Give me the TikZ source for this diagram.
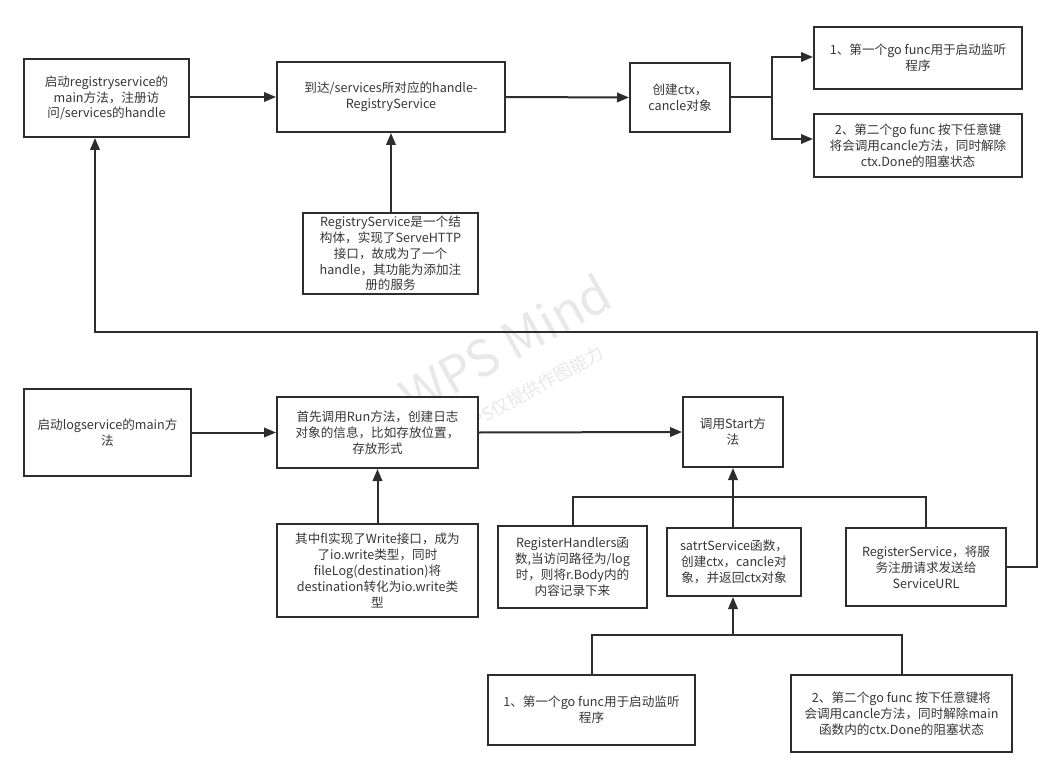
\documentclass[tikz,border=0pt]{standalone}
\usepackage{fontspec}
\setmainfont{Noto Sans CJK SC}
\usetikzlibrary{arrows.meta}
\definecolor{txt}{RGB}{55,55,55}
\definecolor{ln}{RGB}{45,45,45}
\tikzset{
  box/.style={draw=ln, line width=2pt, fill=white, align=center, text=txt,
    inner sep=2pt, font=\fontsize{12.6}{15.8}\selectfont},
  conn/.style={draw=ln, line width=2pt},
  arr/.style={conn, -{Triangle[length=12pt,width=9.5pt]}},
  wm/.style={text=black, text opacity=0.09, rotate=29, align=center, inner sep=0pt}
}
\begin{document}
\begin{tikzpicture}[x=1pt,y=-1pt]
\useasboundingbox[fill=white] (0,0) rectangle (1062,778);

% watermark
\node[wm, font=\fontsize{50}{40}\selectfont] (wm) at (515,362)
  {WPS Mind\\{\fontsize{18}{18}\selectfont WPS仅提供作图能力}};

% top half
\node[box, minimum width=165pt, minimum height=78pt] (A) at (106.5,98)
  {启动registryservice的\\main方法，注册访\\问/services的handle};
\node[box, minimum width=228pt, minimum height=70pt] (B) at (391,97)
  {到达/services所对应的handle-\\RegistryService};
\node[box, minimum width=100pt, minimum height=69pt] (C) at (680,97.5)
  {创建ctx，\\cancle对象};
\node[box, minimum width=208pt, minimum height=62pt] (D1) at (918,58)
  {1、第一个go func用于启动监听\\程序};
\node[box, minimum width=208pt, minimum height=63pt] (D2) at (918,145.5)
  {2、第二个go func 按下任意键\\将会调用cancle方法，同时解除\\ctx.Done的阻塞状态};
\node[box, minimum width=175pt, minimum height=81pt] (E) at (390.5,253.5)
  {RegistryService是一个结\\构体，实现了ServeHTTP\\接口，故成为了一个\\handle，其功能为添加注\\册的服务};

% bottom half
\node[box, minimum width=167pt, minimum height=87pt] (F) at (107.5,432.5)
  {启动logservice的main方\\法};
\node[box, minimum width=201pt, minimum height=71pt] (G) at (377.5,432.5)
  {首先调用Run方法，创建日志\\对象的信息，比如存放位置，\\存放形式};
\node[box, minimum width=100pt, minimum height=70pt] (H) at (733,432)
  {调用Start方\\法};
\node[box, minimum width=201pt, minimum height=93pt] (N) at (377.5,570.5)
  {其中fl实现了Write接口，成为\\了io.write类型，同时\\fileLog(destination)将\\destination转化为io.write类\\型};
\node[box, minimum width=149pt, minimum height=82pt] (I) at (572.5,567)
  {RegisterHandlers函\\数,当访问路径为/log\\时，则将r.Body内的\\内容记录下来};
\node[box, minimum width=134pt, minimum height=68pt] (J) at (734,562)
  {satrtService函数，\\创建ctx，cancle对\\象，并返回ctx对象};
\node[box, minimum width=160pt, minimum height=78pt] (K) at (926,567)
  {RegisterService，将服\\务注册请求发送给\\ServiceURL};
\node[box, minimum width=207pt, minimum height=70pt] (L) at (591.5,710)
  {1、第一个go func用于启动监听\\程序};
\node[box, minimum width=221pt, minimum height=77pt] (M) at (901.5,713.5)
  {2、第二个go func 按下任意键将\\会调用cancle方法，同时解除main\\函数内的ctx.Done的阻塞状态};

% connectors top
\coordinate (br) at (772,97);
\draw[arr] (A.east |- B.west) -- (B.west);
\draw[arr] (B.east) -- (C.west);
\draw[conn] (C.east |- br) -- (br);
\draw[arr] (br) |- ([yshift=1pt]D1.west);
\draw[arr] (br) |- ([yshift=6.5pt]D2.west);
\draw[arr] (E.north -| B.south) -- (B.south);

% feedback
\coordinate (fb1) at (1037,332);
\coordinate (fb2) at (95,332);
\draw[arr] (K.east) -| (fb1) -- (fb2) -- (fb2 |- A.south);

% connectors bottom
\draw[arr] (F.east |- G.west) -- (G.west);
\draw[arr] (G.east) -- (H.west);
\draw[arr] (N.north) -- (G.south);
\coordinate (bus) at (733,497);
\draw[conn] (I.north) |- (bus) -| (K.north);
\draw[arr] (J.north -| H.south) -- (H.south);
\coordinate (bus2) at (733,635);
\draw[conn] (L.north) |- (bus2) -| (M.north);
\draw[arr] (bus2) -- (bus2 |- J.south);
\end{tikzpicture}
\end{document}
